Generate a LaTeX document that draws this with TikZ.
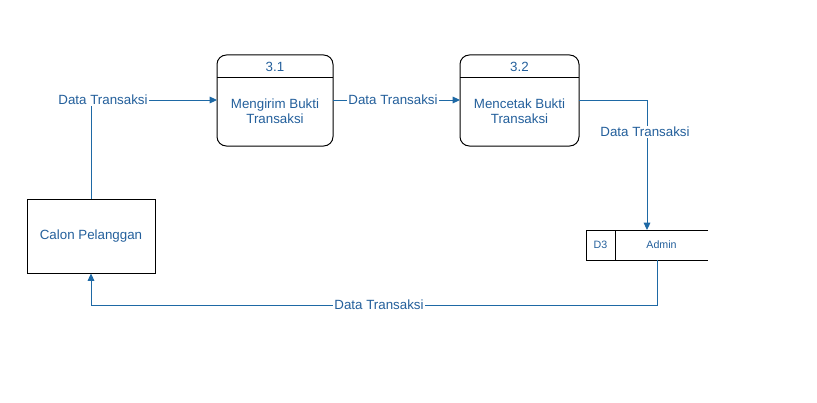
\documentclass[tikz,border=0pt]{standalone}
\usepackage{fontspec}
\setmainfont{Liberation Sans}
\usetikzlibrary{arrows.meta,positioning}
\definecolor{txt}{RGB}{35,95,155}
\definecolor{lin}{RGB}{30,105,165}
\begin{document}
\begin{tikzpicture}[x=0.75pt,y=-0.75pt,
  lbl/.style={text=txt,font=\fontsize{10}{11.5}\selectfont,inner sep=1pt},
  flow/.style={draw=lin,line width=0.75pt,-{Triangle[length=5.5pt,width=5pt]}},
  entity/.style={draw=black,line width=0.75pt,minimum width=96pt,minimum height=55.5pt,inner sep=0pt,text=txt,font=\fontsize{10}{11.5}\selectfont},
  proc/.style={draw=black,line width=0.75pt,rounded corners=7pt}
]
\useasboundingbox (0,0) rectangle (817,403);
% entity
\node[entity] (cal) at (91,236) {Calon Pelanggan};
% process 3.1
\draw[proc] (217,55) rectangle (333,146);
\draw[line width=0.75pt] (217,78) -- (333,78);
\node[lbl] (p1h) at (275,67) {3.1};
\node[lbl,align=center] (p1t) at (275,111) {Mengirim Bukti\\Transaksi};
\coordinate (p1w) at (217,100);
\coordinate (p1e) at (333,100);
% process 3.2
\draw[proc] (460,55) rectangle (579,146);
\draw[line width=0.75pt] (460,78) -- (579,78);
\node[lbl] (p2h) at (519.5,67) {3.2};
\node[lbl,align=center] (p2t) at (519.5,111) {Mencetak Bukti\\Transaksi};
\coordinate (p2w) at (460,100);
\coordinate (p2e) at (579,100);
% data store
\draw[line width=0.75pt] (708,230) -- (586,230) -- (586,260) -- (708,260);
\draw[line width=0.75pt] (615,230) -- (615,260);
\node[text=txt,font=\fontsize{8}{9.5}\selectfont] (d3) at (600.5,245) {D3};
\node[text=txt,font=\fontsize{8}{9.5}\selectfont] (adm) at (661.5,245) {Admin};
\coordinate (dsT) at (647,230);
\coordinate (dsB) at (657,260);
% flows
\draw[flow] (cal.north) -- (91,100) -- (p1w);
\node[lbl,fill=white] (l1) at (103,100) {Data Transaksi};
\draw[flow] (p1e) -- (p2w);
\node[lbl,fill=white] (l2) at (393,100) {Data Transaksi};
\draw[flow] (p2e) -- (647,100) -- (dsT);
\node[lbl,fill=white] (l3) at (645,132) {Data Transaksi};
\draw[flow] (dsB) -- (657,305) -- (91,305) -- (cal.south);
\node[lbl,fill=white] (l4) at (379,305) {Data Transaksi};
\end{tikzpicture}
\end{document}
